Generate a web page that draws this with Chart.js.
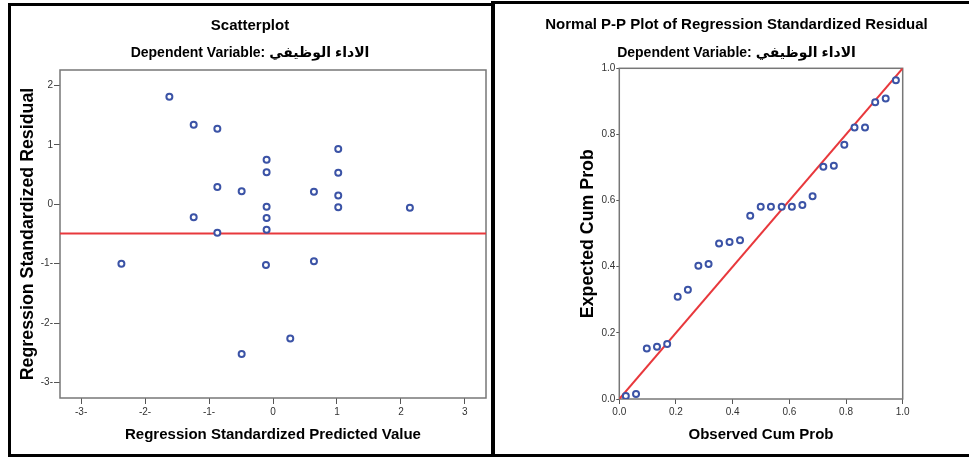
<!DOCTYPE html>
<html><head><meta charset="utf-8">
<script src="https://cdn.jsdelivr.net/npm/chart.js@4"></script>
<style>
html,body{margin:0;padding:0;background:#fff;width:969px;height:458px;overflow:hidden;position:relative}
.wrap{position:absolute;top:0}
canvas{display:block}
.bx{position:absolute;box-sizing:border-box;border:3px solid #000}
</style></head><body>
<div class="wrap" style="left:0;width:493px;height:458px"><canvas id="c1" width="493" height="458"></canvas></div>
<div class="wrap" style="left:496px;width:481px;height:458px"><canvas id="c2" width="481" height="458"></canvas></div>
<div class="bx" style="left:8px;top:3px;width:487px;height:454px"></div>
<div class="bx" style="left:491px;top:1px;width:500px;height:456px;border-width:3px 3px 3px 4px"></div>
<script>
// ---- Scatterplot data ----
const predictedValue = [-1.62,-1.24,-0.87,-0.10,-0.10,-0.87,-0.49,-0.10,-0.10,-0.10,-1.24,-0.87,1.02,1.02,0.64,1.02,1.02,2.14,-2.37,-0.11,0.64,0.27,-0.49];
const residualValue  = [1.81,1.34,1.27,0.75,0.54,0.29,0.22,-0.04,-0.23,-0.43,-0.22,-0.48,0.93,0.53,0.21,0.15,-0.05,-0.06,-1.00,-1.02,-0.96,-2.26,-2.52];
const scatterXTicks = [-3,-2,-1,0,1,2,3];
const scatterYTicks = [-3,-2,-1,0,1,2];
const scatterXRange = [-3.33,3.33];
const scatterYRange = [-3.26,2.26];
const scatterRefLine = -0.49;

// ---- P-P plot data ----
const observedCumProb = [0.023,0.059,0.097,0.133,0.169,0.206,0.242,0.279,0.315,0.352,0.389,0.426,0.462,0.499,0.535,0.573,0.609,0.646,0.682,0.720,0.757,0.794,0.830,0.867,0.903,0.940,0.976];
const expectedCumProb = [0.009,0.015,0.153,0.158,0.166,0.309,0.330,0.403,0.408,0.470,0.475,0.480,0.554,0.581,0.581,0.581,0.581,0.587,0.613,0.702,0.705,0.769,0.821,0.821,0.897,0.909,0.964];
const ppTicks = [0,0.2,0.4,0.6,0.8,1.0];
const ppDiagonal = [0,1];

const FONT = "'Liberation Sans','DejaVu Sans',Arial,sans-serif";
const BLUE = '#3b53a6';
const RED = '#e8383c';
const SUBTITLE = 'Dependent Variable: الاداء الوظيفي';

const frame = {
  id:'frame',
  beforeDatasetsDraw(chart){
    const {ctx, chartArea:a} = chart;
    ctx.save();
    ctx.strokeStyle = '#777';
    ctx.lineWidth = 1.5;
    ctx.strokeRect(a.left, a.top, a.right-a.left, a.bottom-a.top);
    ctx.restore();
  }
};

function axis(min, max, ticks, fmt, titleText, titleSize, fitSize, horizontal, tickLen, tickPad, titlePad){
  return {
    type:'linear', min, max,
    afterBuildTicks: s => { s.ticks = ticks.map(v => ({value:v})); },
    afterFit: s => { if (horizontal) s.height = fitSize; else s.width = fitSize; },
    ticks:{callback: fmt, font:{family:FONT,size:10}, color:'#333', padding:tickPad, maxRotation:0, autoSkip:false},
    grid:{drawOnChartArea:false, drawTicks:true, tickLength:tickLen, color:'#555', lineWidth:1},
    border:{display:false},
    title:{display:true, text:titleText, color:'#000', font:{family:FONT,size:titleSize,weight:'bold'}, padding:titlePad}
  };
}

const fmtSigned = v => v < 0 ? v + '-' : String(v);
const fmtProb = v => v.toFixed(1);

new Chart(document.getElementById('c1'), {
  type:'scatter',
  data:{datasets:[
    {data: predictedValue.map((x,i)=>({x, y: residualValue[i]})), pointRadius:3, pointBorderWidth:2, borderColor:BLUE, backgroundColor:'#fff', order:0},
    {type:'line', data: scatterXRange.map(x=>({x, y: scatterRefLine})), borderColor:RED, borderWidth:2, pointRadius:0, fill:false, order:1}
  ]},
  options:{
    responsive:false, animation:false, events:[], devicePixelRatio:1,
    layout:{padding:{left:14,right:7,top:0,bottom:0}},
    plugins:{
      legend:{display:false}, tooltip:{enabled:false},
      title:{display:true, text:'Scatterplot', color:'#000', font:{family:FONT,size:15,weight:'bold'}, padding:{top:16.5,bottom:10.1}},
      subtitle:{display:true, text:SUBTITLE, color:'#000', font:{family:FONT,size:14,weight:'bold'}, padding:{top:0,bottom:8.6}}
    },
    scales:{
      x: axis(scatterXRange[0], scatterXRange[1], scatterXTicks, fmtSigned, 'Regression Standardized Predicted Value', 15, 60, true, 6, 2, {top:0,bottom:14}),
      y: axis(scatterYRange[0], scatterYRange[1], scatterYTicks, fmtSigned, 'Regression Standardized Residual', 17.8, 46, false, 6, 1, {top:3.9,bottom:0})
    }
  },
  plugins:[frame]
});

new Chart(document.getElementById('c2'), {
  type:'scatter',
  data:{datasets:[
    {data: observedCumProb.map((x,i)=>({x, y: expectedCumProb[i]})), pointRadius:3, pointBorderWidth:2, borderColor:BLUE, backgroundColor:'#fff', order:0},
    {type:'line', data: ppDiagonal.map(v=>({x:v, y:v})), borderColor:RED, borderWidth:2, pointRadius:0, fill:false, order:1}
  ]},
  options:{
    responsive:false, animation:false, events:[], devicePixelRatio:1,
    layout:{padding:{left:0,right:0,top:0,bottom:0}},
    plugins:{
      legend:{display:false}, tooltip:{enabled:false},
      title:{display:true, text:'Normal P-P Plot of Regression Standardized Residual', color:'#000', font:{family:FONT,size:15,weight:'bold'}, padding:{top:15.5,bottom:11.1}},
      subtitle:{display:true, text:SUBTITLE, color:'#000', font:{family:FONT,size:14,weight:'bold'}, padding:{top:0,bottom:6.9}}
    },
    scales:{
      x: axis(0, 1, ppTicks, fmtProb, 'Observed Cum Prob', 15, 59, true, 5, 2, {top:0,bottom:14}),
      y: axis(0, 1, ppTicks, fmtProb, 'Expected Cum Prob', 17.8, 123.3, false, 3, 1, {top:81.8,bottom:0}),
      yr: {type:'linear', position:'right', display:true, afterFit: s => { s.width = 74.3; },
           ticks:{display:false}, grid:{display:false}, border:{display:false}, title:{display:false}}
    }
  },
  plugins:[frame]
});
</script>
</body></html>
